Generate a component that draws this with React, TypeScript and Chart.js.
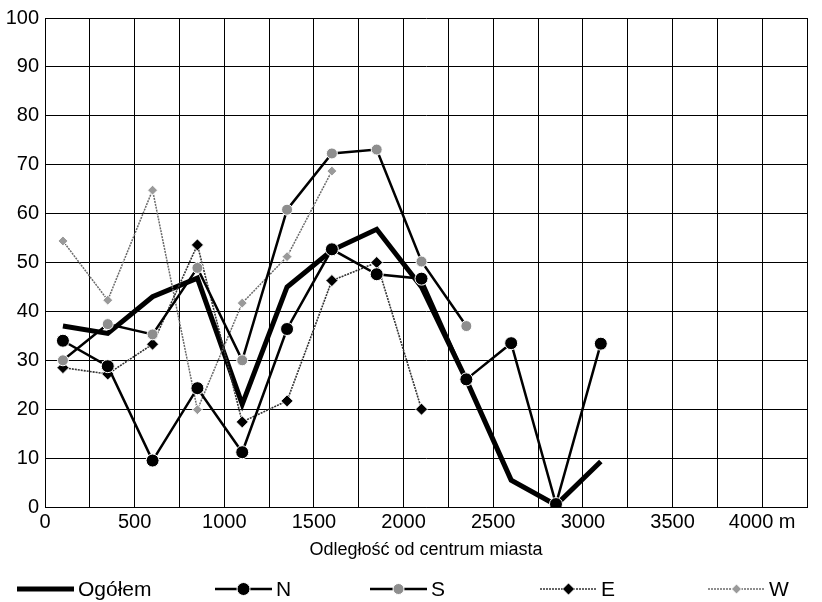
import { useEffect, useRef } from "react";
import { Chart, registerables } from "chart.js";

Chart.register(...registerables);

// ---- data ----
const distances = [100, 350, 600, 850, 1100, 1350, 1600, 1850, 2100, 2350, 2600, 2850, 3100];
const ogolem = [37, 35.5, 43, 46.8, 21, 45, 52.5, 56.8, 45, 26, 5.5, 0.4, 9.3];
const seriesN = [34, 28.8, 9.5, 24.3, 11.2, 36.4, 52.7, 47.6, 46.7, 26.1, 33.5, 0.6, 33.4];
const seriesS = [30, 37.4, 35.3, 48.9, 30, 60.8, 72.3, 73.1, 50.2, 37];
const seriesE = [28.5, 27.2, 33.3, 53.6, 17.4, 21.7, 46.3, 50, 20];
const seriesW = [54.4, 42.3, 64.8, 19.9, 41.7, 51.2, 68.7];
const seriesLabels = ["Ogółem", "N", "S", "E", "W"];
const xTitle = "Odległość od centrum miasta";
const xMax = 4250;
const xStep = 250;
const labelEvery = 500;
const lastLabel = 4000;
const unit = "m";

const toPoints = (vals: number[]) => vals.map((v, i) => ({ x: distances[i], y: v }));

const FONT = "'Liberation Sans', Arial, sans-serif";

const legendPlugin = {
  id: "customLegend",
  afterDraw(chart: any) {
    const ctx = chart.ctx;
    const starts = [17, 215, 370, 540, 708];
    const sampleLen = 57;
    const y = 589;
    ctx.save();
    chart.data.datasets.forEach((ds: any, i: number) => {
      const x0 = starts[i];
      ctx.beginPath();
      ctx.strokeStyle = ds.borderColor;
      ctx.lineWidth = ds.borderWidth;
      ctx.setLineDash(ds.borderDash || []);
      ctx.moveTo(x0, y);
      ctx.lineTo(x0 + sampleLen, y);
      ctx.stroke();
      ctx.setLineDash([]);
      if (ds.pointRadius > 0) {
        const cx = x0 + sampleLen / 2;
        ctx.fillStyle = ds.pointBackgroundColor;
        ctx.strokeStyle = ds.pointBorderColor;
        ctx.lineWidth = ds.pointBorderWidth;
        const r = ds.pointRadius;
        ctx.beginPath();
        if (ds.pointStyle === "rectRot") {
          ctx.moveTo(cx, y - r);
          ctx.lineTo(cx + r, y);
          ctx.lineTo(cx, y + r);
          ctx.lineTo(cx - r, y);
          ctx.closePath();
        } else {
          ctx.arc(cx, y, r, 0, Math.PI * 2);
        }
        ctx.fill();
        ctx.stroke();
      }
      ctx.fillStyle = "#000";
      ctx.font = `21px ${FONT}`;
      ctx.textBaseline = "middle";
      ctx.textAlign = "left";
      ctx.fillText(ds.label, x0 + sampleLen + 4, y + 1);
    });
    ctx.restore();
  },
};

export default function App() {
  const canvasRef = useRef<HTMLCanvasElement | null>(null);

  useEffect(() => {
    const canvas = canvasRef.current;
    if (!canvas) return;
    const chart = new Chart(canvas, {
      type: "line",
      data: {
        datasets: [
          {
            label: seriesLabels[0],
            data: toPoints(ogolem),
            borderColor: "#000",
            borderWidth: 5,
            pointRadius: 0,
            pointStyle: "circle",
            pointBackgroundColor: "#000",
            pointBorderColor: "#000",
            pointBorderWidth: 0,
            order: 5,
            tension: 0,
          } as any,
          {
            label: seriesLabels[1],
            data: toPoints(seriesN),
            borderColor: "#000",
            borderWidth: 2.5,
            pointRadius: 6.5,
            pointStyle: "circle",
            pointBackgroundColor: "#000",
            pointBorderColor: "#fff",
            pointBorderWidth: 1,
            order: 1,
          },
          {
            label: seriesLabels[2],
            data: toPoints(seriesS),
            borderColor: "#000",
            borderWidth: 2.5,
            pointRadius: 5.5,
            pointStyle: "circle",
            pointBackgroundColor: "#8e8e8e",
            pointBorderColor: "#fff",
            pointBorderWidth: 1,
            order: 2,
          },
          {
            label: seriesLabels[3],
            data: toPoints(seriesE),
            borderColor: "#333",
            borderWidth: 1.6,
            borderDash: [2, 1],
            pointRadius: 6,
            pointStyle: "rectRot",
            pointBackgroundColor: "#000",
            pointBorderColor: "#fff",
            pointBorderWidth: 0.8,
            order: 3,
          },
          {
            label: seriesLabels[4],
            data: toPoints(seriesW),
            borderColor: "#6a6a6a",
            borderWidth: 1.5,
            borderDash: [2, 1],
            pointRadius: 5,
            pointStyle: "rectRot",
            pointBackgroundColor: "#9a9a9a",
            pointBorderColor: "#fff",
            pointBorderWidth: 1,
            order: 4,
          },
        ],
      },
      options: {
        animation: false,
        responsive: false,
        maintainAspectRatio: false,
        layout: { padding: { top: 13, right: 15, bottom: 39, left: 0 } },
        plugins: {
          legend: { display: false },
          tooltip: { enabled: false },
        },
        elements: { line: { tension: 0 } },
        scales: {
          x: {
            type: "linear",
            min: 0,
            max: xMax,
            afterFit: (scale: any) => {
              scale.height = 56;
            },
            afterBuildTicks: (scale: any) => {
              const t = [];
              for (let v = 0; v <= xMax; v += xStep) t.push({ value: v });
              scale.ticks = t;
            },
            ticks: {
              autoSkip: false,
              maxRotation: 0,
              padding: 3,
              color: "#000",
              font: { family: FONT, size: 20 },
              callback: (v: any) => {
                const n = Number(v);
                if (n % labelEvery !== 0 || n > lastLabel) return "";
                return n === lastLabel ? `${n} ${unit}` : `${n}`;
              },
            },
            grid: { color: "#000", lineWidth: 1, drawTicks: false },
            border: { color: "#000", width: 1 },
            title: {
              display: true,
              text: xTitle,
              color: "#000",
              font: { family: FONT, size: 18 },
              padding: { top: 0, bottom: 2 },
            },
          },
          y: {
            min: 0,
            max: 100,
            afterFit: (scale: any) => {
              scale.width = 45;
            },
            ticks: {
              stepSize: 10,
              padding: 6,
              color: "#000",
              font: { family: FONT, size: 20 },
            },
            grid: { color: "#000", lineWidth: 1, drawTicks: false },
            border: { color: "#000", width: 1 },
          },
        },
      },
      plugins: [legendPlugin],
    });
    return () => chart.destroy();
  }, []);

  return (
    <div style={{ position: "absolute", left: 0, top: 0, width: 822, height: 602, background: "#fff" }}>
      <canvas ref={canvasRef} width={822} height={602} style={{ display: "block" }} />
    </div>
  );
}
